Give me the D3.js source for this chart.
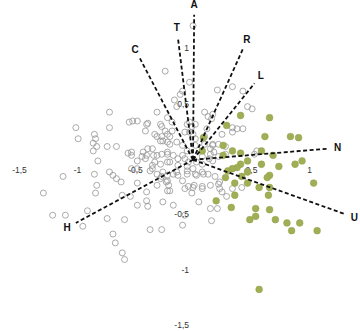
<!DOCTYPE html>
<html><head><meta charset="utf-8">
<script src="https://cdn.jsdelivr.net/npm/d3@7"></script>
<style>html,body{margin:0;padding:0;background:#fff;}svg{display:block;}</style>
</head><body>
<svg id="c" width="360" height="331"></svg>
<script>
const xTicks = [-1.5, -1, -0.5, 0.5, 1];
const yTicks = [1, 0.5, -0.5, -1, -1.5];

const vecNames = ["A", "T", "C", "R", "L", "N", "U", "H"];
const vecX = [0.01, -0.13, -0.46, 0.43, 0.53, 1.16, 1.31, -1.01];
const vecY = [1.31, 1.10, 0.92, 1.00, 0.69, 0.10, -0.49, -0.57];

const greyPts = [
[0.00,1.21],[-0.24,0.80],[-0.03,0.70],[-0.11,0.59],[-0.16,0.54],[-0.09,0.62],[-0.14,0.48],
[0.21,0.63],[0.34,0.66],[0.43,0.62],[0.47,0.48],[0.51,0.46],[0.10,0.43],[0.13,0.39],[0.16,0.37],
[0.34,0.29],[0.38,0.28],[0.43,0.28],[0.34,0.25],[-0.03,0.34],[-0.07,0.25],[0.00,0.23],
[-0.72,0.43],[-0.31,0.43],[-0.22,0.38],[-1.01,0.29],[-0.72,0.29],[-0.55,0.34],[-0.52,0.35],
[-0.48,0.35],[-0.40,0.32],[-0.28,0.32],[-0.85,0.23],[-0.84,0.19],[-0.99,0.19],[-0.86,0.15],
[-0.24,0.26],[-0.18,0.26],[-0.31,0.21],[-0.20,0.21],[-0.28,0.17],[-0.22,0.16],[-0.33,0.23],
[-0.41,0.26],[-0.83,0.12],[-0.74,0.12],[-0.66,0.12],[-0.53,0.07],[-0.35,0.10],[-0.40,0.04],
[-0.44,0.03],[-0.31,0.04],[-0.22,0.05],[-0.17,0.04],[-0.82,-0.01],[-0.86,0.08],[-0.56,0.06],
[-0.53,0.04],[-0.13,0.01],[-0.33,-0.02],[-0.28,-0.04],[-0.22,-0.02],[-0.48,-0.01],[-0.41,0.01],
[-0.53,-0.08],[-0.48,-0.08],[-0.35,-0.05],[-0.37,-0.10],[-1.12,-0.15],[-1.29,-0.30],[-1.21,-0.50],
[-1.10,-0.50],[-0.95,-0.60],[-0.85,-0.13],[-0.83,-0.23],[-0.84,-0.30],[-0.72,-0.11],[-0.69,-0.14],
[-0.66,-0.17],[-0.62,-0.20],[-0.91,-0.46],[-0.74,-0.53],[-0.59,-0.54],[-0.69,-0.67],[-0.67,-0.75],
[-0.61,-0.84],[-0.59,-0.90],[-0.37,-0.63],[-0.27,-0.63],[-0.48,-0.21],[-0.54,-0.33],[-0.48,-0.41],
[-0.40,-0.37],[-0.39,-0.42],[-0.40,-0.29],[-0.26,-0.38],[-0.17,-0.41],[-0.31,-0.23],[-0.23,-0.20],
[-0.21,-0.23],[-0.27,-0.15],[-0.22,-0.14],[-0.14,-0.11],[-0.09,-0.59],[-0.61,-0.32],[-0.31,-0.13],
[-0.28,-0.17],[-0.22,-0.28],[-0.13,-0.14],[-0.05,-0.13],[-0.04,-0.24],[-0.05,-0.06],[0.02,-0.13],
[0.08,-0.11],[0.00,-0.25],[0.08,-0.24],[0.22,-0.22],[0.23,-0.26],[0.25,-0.29],[0.29,-0.33],
[0.05,-0.38],[0.15,-0.44],[0.21,-0.44],[-0.07,-0.50],[0.16,-0.55],[0.47,-0.10],[0.42,-0.25],
[0.34,-0.26],[-0.01,0.30],[0.02,0.32],[0.10,0.21],[0.17,0.14],[0.22,0.14],[0.15,0.10],[0.18,0.07],
[0.28,0.05],[0.22,0.03],[0.55,0.08],[0.53,0.05],[0.14,0.01],[0.17,-0.01],[0.08,-0.04],[0.00,-0.08],
[0.03,-0.14],[0.09,-0.13],[0.13,-0.13],[0.01,-0.23],[0.19,-0.15],[-0.39,0.33],[-0.27,0.30],
[-0.18,0.34],[-0.05,0.32],[-0.27,0.21],[-0.22,0.23],[-0.26,0.17],[-0.20,0.14],[-0.14,0.16],
[-0.09,0.13],[-0.05,0.08],[0.02,0.13],[-0.39,0.10],[-0.43,0.07],[-0.34,0.04],[-0.27,0.05],
[-0.22,0.07],[-0.09,0.04],[-0.07,0.01],[-0.04,-0.02],[0.03,-0.02],[0.08,0.03],[0.15,0.05],
[0.28,0.12],[0.17,0.13],[0.10,0.14],[0.12,0.28],[0.25,0.23],[-0.20,-0.02],[-0.13,-0.05],
[-0.05,-0.10],[-0.35,-0.08],[-0.26,-0.11],[-0.17,-0.13],[-0.22,-0.19],[-0.09,-0.19],[-0.07,-0.26],
[-0.20,-0.28],[-0.01,-0.30],[0.08,-0.26],[0.15,-0.23],[0.23,-0.20],[0.02,0.19],[-0.03,0.25],
[0.17,0.41]
];

const greenPts = [
[0.41,0.40],[0.66,0.38],[0.29,0.31],[0.62,0.21],[0.84,0.21],[0.91,0.20],[0.09,0.20],[0.26,0.13],
[0.08,0.08],[0.34,0.08],[0.41,0.06],[0.59,0.08],[0.69,0.04],[0.47,-0.01],[0.41,-0.04],[0.59,-0.04],
[0.74,-0.06],[0.88,-0.04],[0.94,-0.01],[0.30,-0.10],[0.38,-0.07],[0.47,-0.11],[0.66,-0.14],
[0.64,-0.16],[0.28,-0.16],[0.42,-0.15],[0.36,-0.21],[0.47,-0.21],[0.57,-0.25],[0.66,-0.25],
[1.04,-0.21],[0.36,-0.32],[0.65,-0.32],[0.20,-0.37],[0.33,-0.43],[0.54,-0.44],[0.66,-0.45],
[0.54,-0.51],[0.49,-0.54],[0.71,-0.54],[0.81,-0.57],[0.92,-0.57],[0.85,-0.64],[1.07,-0.64],
[0.57,-1.17],[0.26,0.04],[0.34,-0.08]
];

const svg = d3.select("#c");
const x = d3.scaleLinear().domain([-1.5, 1]).range([19, 309]);
const y = d3.scaleLinear().domain([-1.5, 1]).range([326, 49]);
const fmt = d => String(d).replace(".", ",");

// axes (labels only)
const ax = svg.append("g").attr("transform", `translate(0,${y(0)})`)
  .call(d3.axisBottom(x).tickValues(xTicks).tickSize(0).tickPadding(7).tickFormat(fmt));
const ay = svg.append("g").attr("transform", `translate(${x(0)},0)`)
  .call(d3.axisLeft(y).tickValues(yTicks).tickSize(0).tickPadding(4).tickFormat(fmt));
[ax, ay].forEach(g => {
  g.select(".domain").remove();
  g.selectAll("text").attr("font-family", "Liberation Sans, Arial, sans-serif")
    .attr("font-size", 8.5).attr("fill", "#333");
});
ay.selectAll("text").attr("dy", "0.2em");

// points
svg.append("g").selectAll("circle").data(greyPts).join("circle")
  .attr("cx", d => x(d[0])).attr("cy", d => y(d[1])).attr("r", 3)
  .attr("fill", "none").attr("stroke", "#959595").attr("stroke-width", 0.8);
svg.append("g").selectAll("circle").data(greenPts).join("circle")
  .attr("cx", d => x(d[0])).attr("cy", d => y(d[1])).attr("r", 3.4)
  .attr("fill", "#a0af55").attr("stroke", "#92a24b").attr("stroke-width", 0.5);

// vectors
const vecs = vecNames.map((n, i) => ({ n, vx: vecX[i], vy: vecY[i] }));
svg.append("g").selectAll("line").data(vecs).join("line")
  .attr("x1", x(0)).attr("y1", y(0))
  .attr("x2", d => x(d.vx)).attr("y2", d => y(d.vy))
  .attr("stroke", "#111").attr("stroke-width", 1.8).attr("stroke-dasharray", "4,2.5");
svg.append("g").selectAll("text").data(vecs).join("text")
  .each(function (d) {
    const ex = x(d.vx), ey = y(d.vy);
    const dx = ex - x(0), dy = ey - y(0), len = Math.hypot(dx, dy);
    d3.select(this).attr("x", ex + dx / len * 10).attr("y", ey + dy / len * 10);
  })
  .attr("text-anchor", "middle").attr("dominant-baseline", "central")
  .attr("font-family", "Liberation Sans, Arial, sans-serif").attr("font-weight", "bold")
  .attr("font-size", 10).attr("fill", "#111")
  .text(d => d.n);
</script>
</body></html>
